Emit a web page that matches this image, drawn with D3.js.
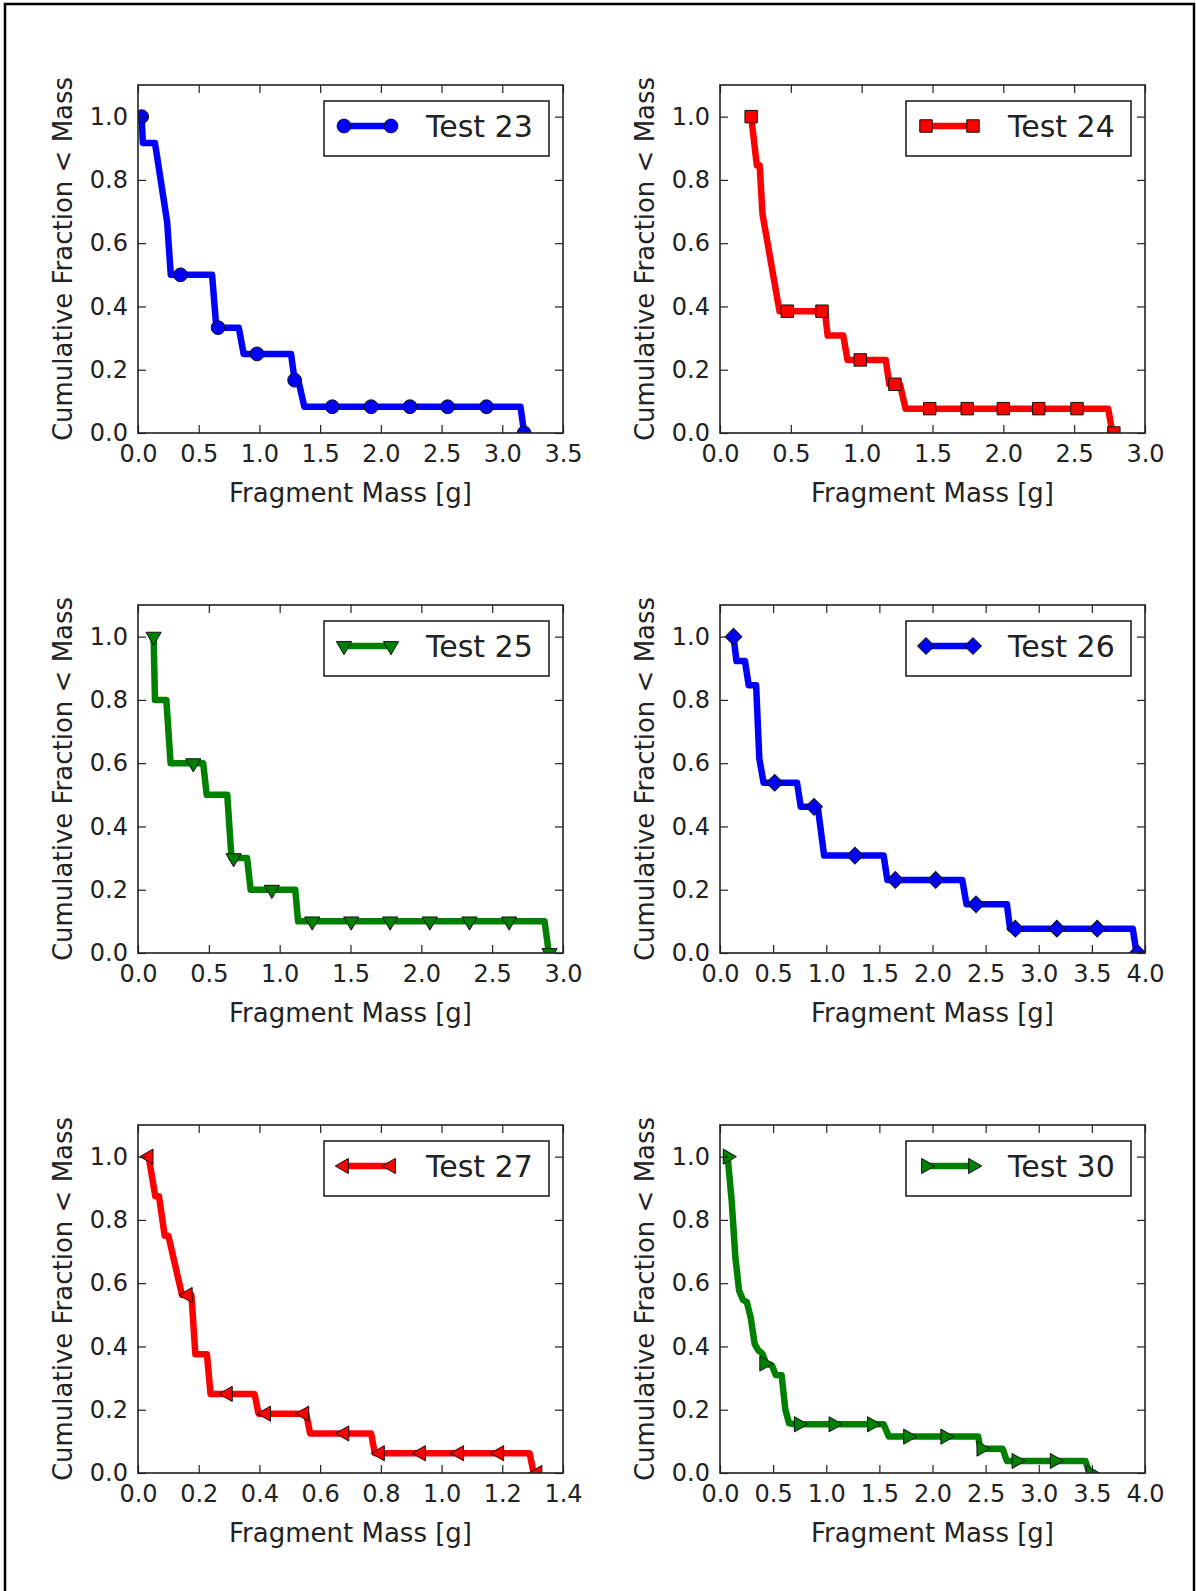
<!DOCTYPE html>
<html>
<head>
<meta charset="utf-8">
<script src="https://cdn.jsdelivr.net/npm/d3@7"></script>
<style>
  body { margin: 0; background: #fff; }
  svg { display: block; font-family: "DejaVu Sans", sans-serif; }
</style>
</head>
<body>
<svg id="fig" width="1196" height="1591"></svg>
<script>
// values: [fragment mass (g), cumulative fraction]
var test23Line = [[0.03,1.0],[0.04,0.917],[0.14,0.917],[0.24,0.667],[0.27,0.5],[0.61,0.5],[0.645,0.333],[0.83,0.333],[0.87,0.25],[1.26,0.25],[1.29,0.167],[1.32,0.167],[1.37,0.083],[3.15,0.083],[3.18,0.0]]
var test23Marks = [[0.03,1.0],[0.35,0.5],[0.66,0.333],[0.98,0.25],[1.29,0.167],[1.6,0.083],[1.92,0.083],[2.24,0.083],[2.55,0.083],[2.87,0.083],[3.18,0.0]]

var test24Line = [[0.22,1.0],[0.26,0.846],[0.28,0.846],[0.30,0.692],[0.42,0.385],[0.74,0.385],[0.76,0.308],[0.87,0.308],[0.90,0.231],[1.17,0.231],[1.195,0.154],[1.27,0.154],[1.31,0.077],[2.74,0.077],[2.77,0.0]]
var test24Marks = [[0.22,1.0],[0.475,0.385],[0.72,0.385],[0.99,0.231],[1.235,0.154],[1.48,0.077],[1.745,0.077],[2.0,0.077],[2.25,0.077],[2.52,0.077],[2.78,0.0]]

var test25Line = [[0.11,1.0],[0.12,0.8],[0.20,0.8],[0.23,0.6],[0.46,0.6],[0.485,0.5],[0.63,0.5],[0.66,0.3],[0.77,0.3],[0.795,0.2],[1.11,0.2],[1.13,0.1],[2.87,0.1],[2.9,0.0]]
var test25Marks = [[0.11,1.0],[0.39,0.6],[0.675,0.3],[0.945,0.2],[1.23,0.1],[1.505,0.1],[1.78,0.1],[2.06,0.1],[2.34,0.1],[2.62,0.1],[2.905,0.0]]

var test26Line = [[0.127,1.0],[0.155,0.923],[0.235,0.923],[0.27,0.846],[0.34,0.846],[0.37,0.615],[0.41,0.538],[0.725,0.538],[0.76,0.462],[0.92,0.462],[0.98,0.308],[1.54,0.308],[1.575,0.231],[2.28,0.231],[2.32,0.154],[2.70,0.154],[2.73,0.077],[3.885,0.077],[3.92,0.0]]
var test26Marks = [[0.127,1.0],[0.515,0.538],[0.885,0.462],[1.27,0.308],[1.65,0.231],[2.03,0.231],[2.41,0.154],[2.78,0.077],[3.17,0.077],[3.55,0.077],[3.93,0.0]]

var test27Line = [[0.035,1.0],[0.057,0.875],[0.069,0.875],[0.088,0.75],[0.10,0.75],[0.145,0.5625],[0.176,0.5625],[0.189,0.375],[0.227,0.375],[0.239,0.25],[0.384,0.25],[0.397,0.1875],[0.554,0.1875],[0.567,0.125],[0.768,0.125],[0.78,0.0625],[1.29,0.0625],[1.303,0.0]]
var test27Marks = [[0.035,1.0],[0.164,0.5625],[0.296,0.25],[0.422,0.1875],[0.548,0.1875],[0.68,0.125],[0.797,0.0625],[0.932,0.0625],[1.058,0.0625],[1.19,0.0625],[1.316,0.0]]

var test30Line = [[0.072,1.0],[0.11,0.86],[0.145,0.68],[0.18,0.576],[0.217,0.547],[0.253,0.54],[0.29,0.49],[0.326,0.408],[0.362,0.387],[0.40,0.377],[0.434,0.346],[0.489,0.34],[0.525,0.31],[0.58,0.309],[0.615,0.2],[0.65,0.157],[0.706,0.154],[1.54,0.154],[1.59,0.115],[2.43,0.115],[2.45,0.077],[2.66,0.077],[2.70,0.038],[3.44,0.038],[3.475,0.0]]
var test30Marks = [[0.072,1.0],[0.416,0.346],[0.742,0.154],[1.068,0.154],[1.43,0.154],[1.77,0.115],[2.12,0.115],[2.46,0.077],[2.79,0.038],[3.15,0.038],[3.49,0.0]]

var testNames = ["Test 23", "Test 24", "Test 25", "Test 26", "Test 27", "Test 30"]
var xMaxes = [3.5, 3.0, 3.0, 4.0, 1.4, 4.0]
var xTickSets = [
  [0, 0.5, 1.0, 1.5, 2.0, 2.5, 3.0, 3.5],
  [0, 0.5, 1.0, 1.5, 2.0, 2.5, 3.0],
  [0, 0.5, 1.0, 1.5, 2.0, 2.5, 3.0],
  [0, 0.5, 1.0, 1.5, 2.0, 2.5, 3.0, 3.5, 4.0],
  [0, 0.2, 0.4, 0.6, 0.8, 1.0, 1.2, 1.4],
  [0, 0.5, 1.0, 1.5, 2.0, 2.5, 3.0, 3.5, 4.0]
]
var yTicks = [0, 0.2, 0.4, 0.6, 0.8, 1.0]

var lines = [test23Line, test24Line, test25Line, test26Line, test27Line, test30Line]
var marks = [test23Marks, test24Marks, test25Marks, test26Marks, test27Marks, test30Marks]
var colors = ["#0000ff", "#ff0000", "#008000", "#0000ff", "#ff0000", "#008000"]
var markerKinds = ["circle", "square", "down", "diamond", "left", "right"]

// layout
var colLeft = [138, 720]
var rowTop = [85, 605, 1125]
var plotW = 425, plotH = 348

var svg = d3.select("#fig")
svg.append("rect").attr("width", 1196).attr("height", 1591).attr("fill", "#fff")
svg.append("path")
  .attr("d", "M5,1591V4H1194V1591")
  .attr("fill", "none").attr("stroke", "#000").attr("stroke-width", 2.5)

function markerShape(kind) {
  if (kind == "circle") return { d: d3.symbol(d3.symbolCircle, 150)(), rot: 0 }
  if (kind == "square") return { d: d3.symbol(d3.symbolSquare, 155)(), rot: 0 }
  if (kind == "diamond") return { d: d3.symbol(d3.symbolSquare, 140)(), rot: 45 }
  var tri = d3.symbol(d3.symbolTriangle, 100)()
  if (kind == "down") return { d: tri, rot: 180 }
  if (kind == "left") return { d: tri, rot: -90 }
  return { d: tri, rot: 90 }
}

function drawPanel(i) {
  var left = colLeft[i % 2]
  var top = rowTop[Math.floor(i / 2)]
  var g = svg.append("g").attr("transform", "translate(" + left + "," + top + ")")

  var x = d3.scaleLinear().domain([0, xMaxes[i]]).range([0, plotW])
  var y = d3.scaleLinear().domain([0, 1.1]).range([plotH, 0])

  var clipId = "clip" + i
  g.append("clipPath").attr("id", clipId)
    .append("rect").attr("width", plotW).attr("height", plotH)

  var plot = g.append("g").attr("clip-path", "url(#" + clipId + ")")
  var line = d3.line().x(d => x(d[0])).y(d => y(d[1]))

  plot.append("path")
    .datum(lines[i])
    .attr("d", line)
    .attr("fill", "none")
    .attr("stroke", colors[i])
    .attr("stroke-width", 6.5)
    .attr("stroke-linejoin", "round")
    .attr("stroke-linecap", "square")

  var shape = markerShape(markerKinds[i])
  plot.selectAll(".mk").data(marks[i]).enter()
    .append("path")
    .attr("class", "mk")
    .attr("d", shape.d)
    .attr("transform", d => "translate(" + x(d[0]) + "," + y(d[1]) + ") rotate(" + shape.rot + ")")
    .attr("fill", colors[i])
    .attr("stroke", "#111")
    .attr("stroke-width", 1)

  // axes, ticks pointing inward on all four sides
  var fmt = d3.format(".1f")
  var bottom = g.append("g").attr("transform", "translate(0," + plotH + ")")
    .call(d3.axisBottom(x).tickValues(xTickSets[i]).tickFormat(fmt).tickSizeInner(-8).tickSizeOuter(0).tickPadding(12))
  var leftAx = g.append("g")
    .call(d3.axisLeft(y).tickValues(yTicks).tickFormat(fmt).tickSizeInner(-8).tickSizeOuter(0).tickPadding(10))
  var topAx = g.append("g")
    .call(d3.axisTop(x).tickValues(xTickSets[i]).tickFormat("").tickSizeInner(-8).tickSizeOuter(0))
  var rightAx = g.append("g").attr("transform", "translate(" + plotW + ",0)")
    .call(d3.axisRight(y).tickValues(yTicks).tickFormat("").tickSizeInner(-8).tickSizeOuter(0))

  ;[bottom, leftAx, topAx, rightAx].forEach(function (ax) {
    ax.select(".domain").remove()
    ax.selectAll("line").attr("stroke", "#222").attr("stroke-width", 1.2)
    ax.selectAll("text")
      .attr("fill", "#222")
      .style("font-size", "24px")
      .style("font-family", "DejaVu Sans, sans-serif")
  })

  g.append("rect")
    .attr("width", plotW).attr("height", plotH)
    .attr("fill", "none").attr("stroke", "#222").attr("stroke-width", 1.6)

  // axis titles
  g.append("text")
    .attr("x", plotW / 2).attr("y", plotH + 69)
    .attr("text-anchor", "middle")
    .attr("font-size", 26).attr("fill", "#222")
    .text("Fragment Mass [g]")
  g.append("text")
    .attr("transform", "translate(-66," + (plotH / 2) + ") rotate(-90)")
    .attr("text-anchor", "middle")
    .attr("font-size", 26).attr("fill", "#222")
    .text("Cumulative Fraction < Mass")

  // legend
  var lw = 225, lh = 55
  var lg = g.append("g").attr("transform", "translate(" + (plotW - 14 - lw) + ",16)")
  lg.append("rect").attr("width", lw).attr("height", lh)
    .attr("fill", "#fff").attr("stroke", "#222").attr("stroke-width", 1.6)
  lg.append("line")
    .attr("x1", 20).attr("x2", 67).attr("y1", 25).attr("y2", 25)
    .attr("stroke", colors[i]).attr("stroke-width", 6.5)
  lg.selectAll(".lmk").data([20, 67]).enter()
    .append("path")
    .attr("d", shape.d)
    .attr("transform", d => "translate(" + d + ",25) rotate(" + shape.rot + ")")
    .attr("fill", colors[i]).attr("stroke", "#111").attr("stroke-width", 1)
  lg.append("text")
    .attr("x", 102).attr("y", 36)
    .attr("font-size", 30).attr("fill", "#222")
    .text(testNames[i])
}

for (var i = 0; i < 6; i++) drawPanel(i)
</script>
</body>
</html>
